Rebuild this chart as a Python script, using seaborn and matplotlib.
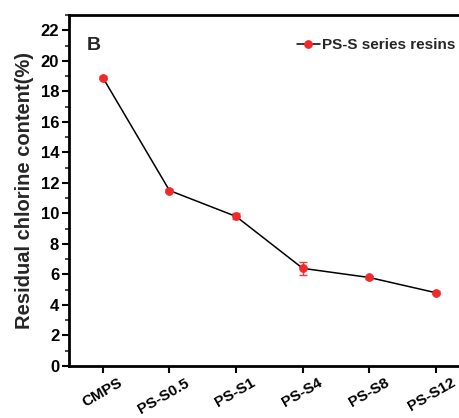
import matplotlib
matplotlib.use("Agg")
import matplotlib.pyplot as plt
from matplotlib.ticker import MultipleLocator
from matplotlib.transforms import ScaledTranslation
import seaborn as sns
import pandas as pd

samples = ["CMPS", "PS-S0.5", "PS-S1", "PS-S4", "PS-S8", "PS-S12"]
chlorine = [18.9, 11.5, 9.8, 6.4, 5.8, 4.8]
chlorine_err = [0.1, 0.1, 0.2, 0.42, 0.1, 0.1]

sns.set_theme(style="ticks")
plt.rcParams["font.family"] = ["Liberation Sans", "DejaVu Sans"]
plt.rcParams["font.weight"] = "bold"

df = pd.DataFrame({"idx": range(len(samples)), "cl": chlorine})

fig = plt.figure(figsize=(4.59, 4.18), dpi=100)
ax = fig.add_axes([0.150, 0.1244, 0.852, 0.8397])

ax.errorbar(df["idx"], df["cl"], yerr=chlorine_err, fmt="none",
            ecolor="#f03a3a", elinewidth=1.0, capsize=3, capthick=1.0, zorder=2)
sns.lineplot(data=df, x="idx", y="cl", ax=ax, color="black", linewidth=1.1,
             marker="o", markersize=5.5, markerfacecolor="#f02a2a",
             markeredgecolor="#f02a2a", label="PS-S series resins", zorder=3)

ax.set_xlim(-0.51, 5.36)
ax.set_ylim(0, 23)
ax.set_xticks(range(len(samples)))
ax.yaxis.set_major_locator(MultipleLocator(2))
ax.yaxis.set_minor_locator(MultipleLocator(1))
ax.tick_params(axis="both", which="major", direction="out", length=5, width=1.5,
               colors="black", pad=2)
ax.tick_params(axis="y", which="minor", direction="out", length=3, width=1.2)
ax.tick_params(axis="x", which="major", pad=2)

ax.set_xticklabels(samples, rotation=30, ha="right", va="top",
                   rotation_mode="anchor", fontsize=11, fontweight="bold")
# shift each rotated label so its upper end sits just right of its tick
shift = ScaledTranslation(0.15, 0, fig.dpi_scale_trans)
for lab in ax.get_xticklabels():
    lab.set_transform(lab.get_transform() + shift)
for lab in ax.get_yticklabels():
    lab.set_fontsize(12)
    lab.set_fontweight("bold")

ax.set_xlabel("")
ax.set_ylabel("Residual chlorine content(%)", fontsize=14.5, fontweight="bold",
              labelpad=5)

for side in ["left", "top", "bottom"]:
    ax.spines[side].set_linewidth(2.0)
    ax.spines[side].set_color("black")
ax.spines["right"].set_visible(False)

ax.text(-0.24, 21.0, "B", fontsize=14, fontweight="bold", va="center", ha="left")

leg = ax.legend(loc="upper right", bbox_to_anchor=(1.012, 0.96), frameon=False,
                handlelength=1.5, handletextpad=0.15, borderaxespad=0.2,
                prop={"size": 11, "weight": "bold"})

fig.savefig("out.png", dpi=100)
